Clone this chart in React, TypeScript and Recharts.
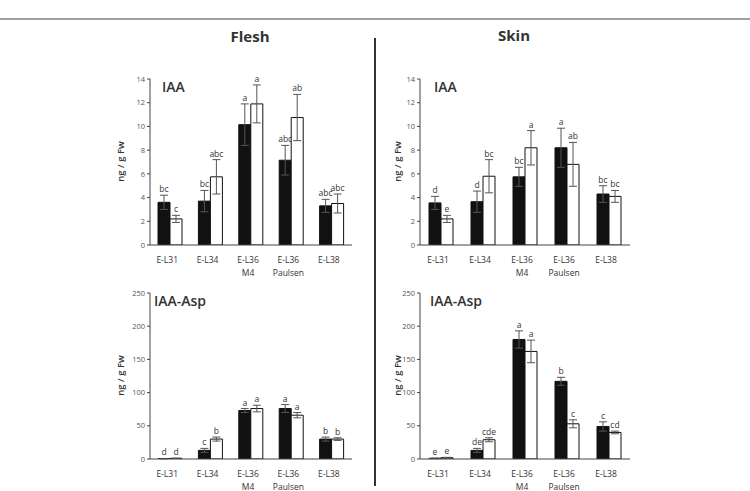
import { BarChart, Bar, XAxis, YAxis, ErrorBar, LabelList } from "recharts";

const categories = ["E-L31", "E-L34", "E-L36\nM4", "E-L36\nPaulsen", "E-L38"];

// Flesh – IAA
const fleshIaaDark = [3.6, 3.7, 10.15, 7.15, 3.3];
const fleshIaaDarkErr = [0.6, 0.9, 1.75, 1.25, 0.55];
const fleshIaaLight = [2.2, 5.75, 11.9, 10.75, 3.5];
const fleshIaaLightErr = [0.3, 1.45, 1.6, 1.95, 0.8];
const fleshIaaDarkLetters = ["bc", "bc", "a", "abc", "abc"];
const fleshIaaLightLetters = ["c", "abc", "a", "ab", "abc"];

// Skin – IAA
const skinIaaDark = [3.55, 3.65, 5.75, 8.2, 4.3];
const skinIaaDarkErr = [0.55, 0.9, 0.8, 1.65, 0.7];
const skinIaaLight = [2.2, 5.8, 8.2, 6.8, 4.1];
const skinIaaLightErr = [0.3, 1.4, 1.45, 1.85, 0.5];
const skinIaaDarkLetters = ["d", "d", "bc", "a", "bc"];
const skinIaaLightLetters = ["e", "bc", "a", "ab", "bc"];

// Flesh – IAA-Asp
const fleshAspDark = [0.5, 13, 73, 76, 30];
const fleshAspDarkErr = [0.3, 3, 3, 6, 3];
const fleshAspLight = [1, 30, 76, 66, 30];
const fleshAspLightErr = [0.3, 3, 5, 4, 2];
const fleshAspDarkLetters = ["d", "c", "a", "a", "b"];
const fleshAspLightLetters = ["d", "b", "a", "a", "b"];

// Skin – IAA-Asp
const skinAspDark = [1, 13, 180, 117, 49];
const skinAspDarkErr = [0.5, 3, 13, 6, 7];
const skinAspLight = [2, 29, 162, 53, 40];
const skinAspLightErr = [0.5, 3, 17, 6, 2];
const skinAspDarkLetters = ["e", "de", "a", "b", "c"];
const skinAspLightLetters = ["e", "cde", "a", "c", "cd"];

const iaaTicks = [0, 2, 4, 6, 8, 10, 12, 14];
const aspTicks = [0, 50, 100, 150, 200, 250];

const FONT = "'Open Sans', 'DejaVu Sans', sans-serif";
const PLOT_H = 166;

const CatTick = (props: any) => {
  const { x, y, payload } = props;
  const lines = String(payload.value).split("\n");
  return (
    <g transform={`translate(${x},${y})`}>
      {lines.map((l, i) => (
        <text key={i} x={-3} y={i * 13} dy={10} textAnchor="middle" fontSize={8.5} fill="#333" fontFamily={FONT}>
          {l}
        </text>
      ))}
    </g>
  );
};

const letterLabel = (letters: string[], errs: number[], yMax: number) => (props: any) => {
  const { x, y, width, index } = props;
  const top = Number(y) - (errs[index] * PLOT_H) / yMax - 3;
  return (
    <text x={Number(x) + Number(width) / 2} y={top} textAnchor="middle" fontSize={8.5} fill="#333" fontFamily={FONT}>
      {letters[index]}
    </text>
  );
};

interface PanelProps {
  left: number;
  top: number;
  width: number;
  axisW: number;
  right: number;
  yMax: number;
  ticks: number[];
  title: string;
  titleX: number;
  labelX: number;
  dark: number[];
  darkErr: number[];
  light: number[];
  lightErr: number[];
  darkLetters: string[];
  lightLetters: string[];
}

function Panel(p: PanelProps) {
  const data = categories.map((c, i) => ({
    name: c,
    dark: p.dark[i],
    darkErr: p.darkErr[i],
    light: p.light[i],
    lightErr: p.lightErr[i],
  }));
  return (
    <div style={{ position: "absolute", left: p.left, top: p.top }}>
      <BarChart
        width={p.width}
        height={230}
        data={data}
        margin={{ top: 19, right: p.right, bottom: 0, left: 0 }}
        barSize={12}
        barGap={0}
      >
        <XAxis
          dataKey="name"
          tick={<CatTick />}
          tickLine={false}
          axisLine={{ stroke: "#444" }}
          interval={0}
          height={45}
        />
        <YAxis
          width={p.axisW}
          domain={[0, p.yMax]}
          ticks={p.ticks}
          tick={{ fontSize: 7.5, fill: "#555", fontFamily: FONT }}
          tickLine={{ stroke: "#444" }}
          tickSize={3}
          axisLine={{ stroke: "#444" }}
          allowDataOverflow
        />
        <Bar dataKey="dark" fill="#111" stroke="#111" isAnimationActive={false}>
          <ErrorBar dataKey="darkErr" width={4} stroke="#555" strokeWidth={1} />
          <LabelList dataKey="dark" content={letterLabel(p.darkLetters, p.darkErr, p.yMax)} />
        </Bar>
        <Bar dataKey="light" fill="#fff" stroke="#111" isAnimationActive={false}>
          <ErrorBar dataKey="lightErr" width={4} stroke="#555" strokeWidth={1} />
          <LabelList dataKey="light" content={letterLabel(p.lightLetters, p.lightErr, p.yMax)} />
        </Bar>
      </BarChart>
      <div
        style={{
          position: "absolute",
          left: p.titleX,
          top: 17,
          fontFamily: FONT,
          fontWeight: 600,
          fontSize: 14,
          color: "#333",
        }}
      >
        {p.title}
      </div>
      <div
        style={{
          position: "absolute",
          left: p.labelX - 40,
          top: 95,
          width: 80,
          textAlign: "center",
          transform: "rotate(-90deg)",
          fontFamily: FONT,
          fontWeight: 600,
          fontSize: 9.5,
          color: "#333",
        }}
      >
        ng / g Fw
      </div>
    </div>
  );
}

export default function App() {
  return (
    <div style={{ position: "absolute", left: 0, top: 0, width: 750, height: 491, background: "#fff", overflow: "hidden" }}>
      <div style={{ position: "absolute", left: 0, top: 18, width: 750, height: 2, background: "#a0a0a0" }} />
      <div style={{ position: "absolute", left: 374, top: 38, width: 1.5, height: 448, background: "#333" }} />
      <div style={{ position: "absolute", left: 200, top: 26, width: 100, textAlign: "center", fontFamily: FONT, fontWeight: 700, fontSize: 15, color: "#333" }}>
        Flesh
      </div>
      <div style={{ position: "absolute", left: 464, top: 25, width: 100, textAlign: "center", fontFamily: FONT, fontWeight: 700, fontSize: 15, color: "#333" }}>
        Skin
      </div>
      <Panel
        left={100} top={60} width={270} axisW={50} right={18}
        yMax={14} ticks={iaaTicks} title="IAA" titleX={62} labelX={20}
        dark={fleshIaaDark} darkErr={fleshIaaDarkErr} light={fleshIaaLight} lightErr={fleshIaaLightErr}
        darkLetters={fleshIaaDarkLetters} lightLetters={fleshIaaLightLetters}
      />
      <Panel
        left={380} top={60} width={270} axisW={40} right={20}
        yMax={14} ticks={iaaTicks} title="IAA" titleX={54} labelX={17}
        dark={skinIaaDark} darkErr={skinIaaDarkErr} light={skinIaaLight} lightErr={skinIaaLightErr}
        darkLetters={skinIaaDarkLetters} lightLetters={skinIaaLightLetters}
      />
      <Panel
        left={100} top={274} width={270} axisW={50} right={18}
        yMax={250} ticks={aspTicks} title="IAA-Asp" titleX={54} labelX={20}
        dark={fleshAspDark} darkErr={fleshAspDarkErr} light={fleshAspLight} lightErr={fleshAspLightErr}
        darkLetters={fleshAspDarkLetters} lightLetters={fleshAspLightLetters}
      />
      <Panel
        left={380} top={274} width={270} axisW={40} right={20}
        yMax={250} ticks={aspTicks} title="IAA-Asp" titleX={50} labelX={17}
        dark={skinAspDark} darkErr={skinAspDarkErr} light={skinAspLight} lightErr={skinAspLightErr}
        darkLetters={skinAspDarkLetters} lightLetters={skinAspLightLetters}
      />
    </div>
  );
}
